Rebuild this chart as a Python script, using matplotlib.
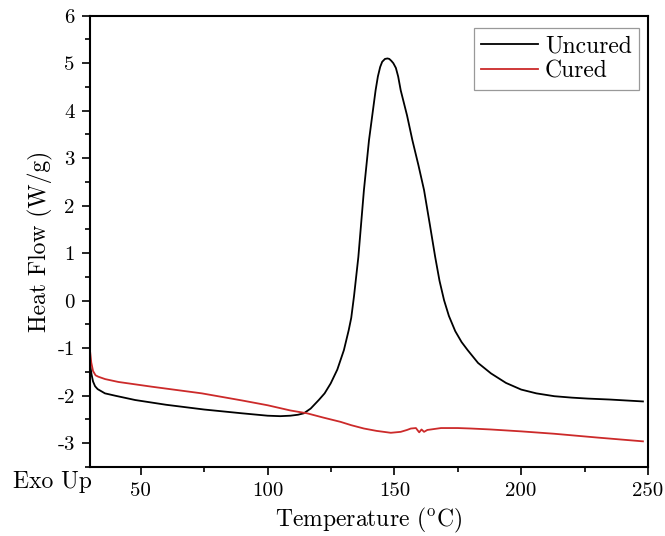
import matplotlib
matplotlib.use("Agg")
import matplotlib.pyplot as plt
from matplotlib.ticker import MultipleLocator, FixedLocator

plt.rcParams['font.family'] = 'serif'
plt.rcParams['font.serif'] = ['cmr10', 'DejaVu Serif']
plt.rcParams['mathtext.fontset'] = 'cm'
plt.rcParams['axes.unicode_minus'] = False
plt.rcParams['axes.formatter.use_mathtext'] = True

# Uncured (black)
T_uncured = [30.2, 30.6, 31.2, 32.0, 33.0, 35.9, 40, 47.8, 60, 75, 90, 100, 105, 109, 112,
             114.3, 117, 120.2, 122.5, 124.9, 127.5, 130.1, 132, 133, 134.1, 135.8, 138.0, 140.0,
             142.6, 143.5, 144.4, 145.2, 146.3, 147.3, 148.0, 148.8, 149.6, 150.6, 151.5,
             152.5, 155, 157.1, 159.5, 161.7, 164, 166.1, 167.8, 169.6, 171.5, 174, 176.5,
             178.9, 183, 188.1, 194, 200, 206, 213.1, 220, 226.3, 235, 248]
hf_uncured = [-1.40, -1.55, -1.70, -1.80, -1.86, -1.95, -2.00, -2.09, -2.19, -2.29, -2.37,
              -2.42, -2.43, -2.42, -2.40, -2.37, -2.27, -2.09, -1.95, -1.74, -1.45, -1.04,
              -0.62, -0.36, 0.10, 0.92, 2.33, 3.38, 4.43, 4.72, 4.92, 5.03, 5.09, 5.10, 5.09,
              5.05, 5.00, 4.90, 4.72, 4.43, 3.90, 3.38, 2.85, 2.33, 1.60, 0.92, 0.42, 0.01,
              -0.32, -0.64, -0.87, -1.04, -1.31, -1.53, -1.73, -1.87, -1.95, -2.01, -2.04,
              -2.06, -2.08, -2.12]

# Cured (red)
T_cured = [30.1, 30.5, 31.2, 32.2, 33.3, 36, 41.2, 54.4, 74.1, 90, 100, 109, 115.6, 122,
           128.8, 133, 138, 143, 148.6, 152.5, 155, 156.5, 158.5, 159.2, 159.8, 160.7, 161.7,
           163, 164.4, 168.4, 175, 180.2, 188, 200, 213, 230, 248]
hf_cured = [-1.10, -1.30, -1.48, -1.57, -1.60, -1.65, -1.71, -1.81, -1.95, -2.10, -2.20,
            -2.31, -2.37, -2.46, -2.55, -2.62, -2.69, -2.74, -2.78, -2.76, -2.72, -2.69,
            -2.68, -2.73, -2.77, -2.71, -2.76, -2.72, -2.71, -2.68, -2.68, -2.69, -2.71,
            -2.75, -2.80, -2.88, -2.96]

x_ticks = [50, 100, 150, 200, 250]
y_ticks = [-3, -2, -1, 0, 1, 2, 3, 4, 5, 6]
y_ticklabels = ['-3', '-2', '-1', '0', '1', '2', '3', '4', '5', '6']

fig = plt.figure(figsize=(6.65, 5.36), dpi=100)
ax = fig.add_axes([90/665, 1 - 467/536, 558/665, (467 - 15.7)/536])

ax.plot(T_uncured, hf_uncured, color='black', lw=1.3, label='Uncured')
ax.plot(T_cured, hf_cured, color='#cc2a2a', lw=1.3, label='Cured')

ax.set_xlim(30, 250)
ax.set_ylim(-3.5, 6)
ax.set_xticks(x_ticks)
ax.set_xticklabels([str(v) for v in x_ticks])
ax.set_yticks(y_ticks)
ax.set_yticklabels(y_ticklabels)
ax.xaxis.set_minor_locator(FixedLocator([75, 125, 175, 225]))
ax.yaxis.set_minor_locator(MultipleLocator(0.5))

for s in ax.spines.values():
    s.set_linewidth(1.5)
ax.tick_params(which='major', direction='out', length=6, width=1.2, labelsize=15, pad=5,
               top=False, right=False)
ax.tick_params(which='minor', direction='out', length=3.5, width=1.2, top=False, right=False)

ax.set_xlabel(r'Temperature ($^{\mathrm{o}}$C)', fontsize=17, labelpad=4)
ax.set_ylabel('Heat Flow (W/g)', fontsize=17, labelpad=3)

fig.text(13/665, 1 - 482/536, 'Exo Up', fontsize=17, ha='left', va='center')

leg = ax.legend(loc='upper right', bbox_to_anchor=(0.984, 0.973), borderaxespad=0,
                fontsize=17, fancybox=False, frameon=True, handlelength=2.4,
                handletextpad=0.3, borderpad=0.3, labelspacing=0.15)
leg.get_frame().set_edgecolor('#808080')
leg.get_frame().set_linewidth(0.9)

fig.savefig('out.png', dpi=100)
